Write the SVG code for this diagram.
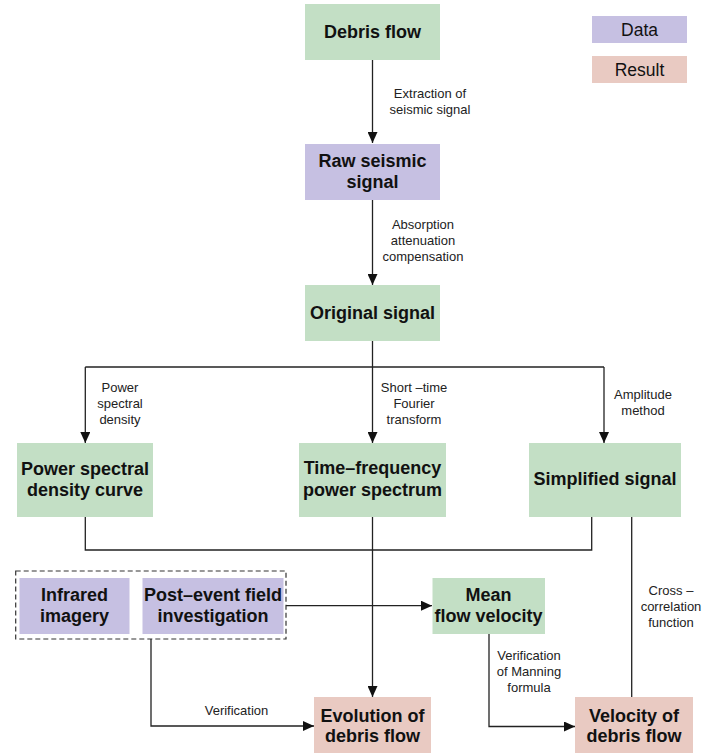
<svg xmlns="http://www.w3.org/2000/svg" width="702" height="753" viewBox="0 0 702 753">
<style>
.g{fill:#c3dfc5}.p{fill:#c6c0e2}.r{fill:#e9cac2}
.n{font-family:"Liberation Sans",Arial,sans-serif;font-weight:bold;font-size:18px;fill:#111;text-anchor:middle}
.l{font-family:"Liberation Sans",Arial,sans-serif;font-size:13px;fill:#222;text-anchor:middle}
.lg{font-family:"Liberation Sans",Arial,sans-serif;font-size:17.5px;fill:#111;text-anchor:middle}
.c{fill:none;stroke:#222;stroke-width:1.3}
</style>
<defs>
<marker id="a" markerUnits="userSpaceOnUse" markerWidth="12" markerHeight="10" refX="11" refY="5" orient="auto">
<path d="M0,0 L11,5 L0,10 Z" fill="#111"/>
</marker>
</defs>
<rect width="702" height="753" fill="#fff"/>

<g id="legend">
<rect class="p" x="592" y="16" width="95" height="27"/>
<text class="lg" x="639.5" y="35.5">Data</text>
<rect class="r" x="592" y="56" width="95" height="27"/>
<text class="lg" x="639.5" y="75.5">Result</text>
</g>

<g id="connectors">
<path class="c" d="M372.5,60 V143" marker-end="url(#a)"/>
<path class="c" d="M372.5,200 V285" marker-end="url(#a)"/>
<path class="c" d="M372.5,341 V443" marker-end="url(#a)"/>
<path class="c" d="M85.3,367 H604"/>
<path class="c" d="M85.3,367 V443" marker-end="url(#a)"/>
<path class="c" d="M604,367 V443" marker-end="url(#a)"/>
<path class="c" d="M85.3,517 V550 H591.7 V517"/>
<path class="c" d="M372.5,517 V697" marker-end="url(#a)"/>
<path class="c" d="M631.7,517 V697"/>
<path class="c" d="M286,605.7 H432" marker-end="url(#a)"/>
<path class="c" d="M151,639 V726 H314" marker-end="url(#a)"/>
<path class="c" d="M489,634 V726.5 H575" marker-end="url(#a)"/>
<text class="l" x="430" y="98">Extraction of</text>
<text class="l" x="430" y="114">seismic signal</text>
<text class="l" x="423" y="229">Absorption</text>
<text class="l" x="423" y="245">attenuation</text>
<text class="l" x="423" y="261">compensation</text>
<text class="l" x="120" y="392">Power</text>
<text class="l" x="120" y="408">spectral</text>
<text class="l" x="120" y="424">density</text>
<text class="l" x="414" y="392">Short –time</text>
<text class="l" x="414" y="408">Fourier</text>
<text class="l" x="414" y="424">transform</text>
<text class="l" x="643" y="399">Amplitude</text>
<text class="l" x="643" y="415">method</text>
<text class="l" x="671" y="595">Cross –</text>
<text class="l" x="671" y="611">correlation</text>
<text class="l" x="671" y="627">function</text>
<text class="l" x="529" y="660">Verification</text>
<text class="l" x="529" y="676">of Manning</text>
<text class="l" x="529" y="692">formula</text>
<text class="l" x="236.5" y="715">Verification</text>
</g>

<g id="debris-flow">
<rect class="g" x="305" y="4" width="135" height="56"/>
<text class="n" x="372.5" y="38">Debris flow</text>
</g>
<g id="raw-seismic-signal">
<rect class="p" x="305" y="144" width="135" height="56"/>
<text class="n" x="372.5" y="167">Raw seismic</text>
<text class="n" x="372.5" y="188">signal</text>
</g>
<g id="original-signal">
<rect class="g" x="305" y="285" width="135" height="56"/>
<text class="n" x="372.5" y="319">Original signal</text>
</g>
<g id="psd-curve">
<rect class="g" x="17" y="443" width="136" height="74"/>
<text class="n" x="85" y="475">Power spectral</text>
<text class="n" x="85" y="496">density curve</text>
</g>
<g id="tf-spectrum">
<rect class="g" x="299" y="443" width="147" height="74"/>
<text class="n" x="372.5" y="474">Time–frequency</text>
<text class="n" x="372.5" y="496">power spectrum</text>
</g>
<g id="simplified-signal">
<rect class="g" x="529" y="443" width="152" height="74"/>
<text class="n" x="605" y="485">Simplified signal</text>
</g>
<g id="field-data">
<rect x="15.7" y="571" width="270.3" height="68" fill="none" stroke="#333" stroke-width="1.2" stroke-dasharray="5,3"/>
</g>
<g id="infrared-imagery">
<rect class="p" x="19.5" y="578" width="110" height="56"/>
<text class="n" x="74.5" y="601">Infrared</text>
<text class="n" x="74.5" y="622">imagery</text>
</g>
<g id="post-event">
<rect class="p" x="142.5" y="578" width="141" height="56"/>
<text class="n" x="213" y="601">Post–event field</text>
<text class="n" x="213" y="622">investigation</text>
</g>
<g id="mean-flow-velocity">
<rect class="g" x="432.5" y="578" width="112.5" height="56"/>
<text class="n" x="488.5" y="601">Mean</text>
<text class="n" x="488.5" y="622">flow velocity</text>
</g>
<g id="evolution">
<rect class="r" x="314" y="697" width="117" height="56"/>
<text class="n" x="372.5" y="722">Evolution of</text>
<text class="n" x="372.5" y="742">debris flow</text>
</g>
<g id="velocity">
<rect class="r" x="575" y="697" width="118" height="56"/>
<text class="n" x="634" y="722">Velocity of</text>
<text class="n" x="634" y="742">debris flow</text>
</g>
</svg>
